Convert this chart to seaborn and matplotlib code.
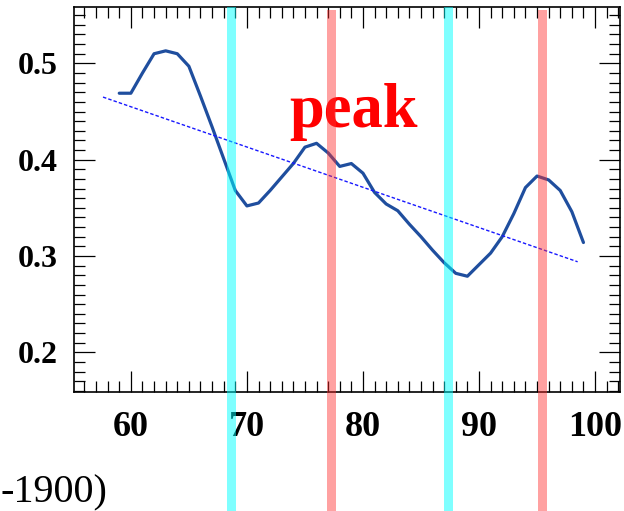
import numpy as np
import pandas as pd
import matplotlib
matplotlib.use("Agg")
import matplotlib.pyplot as plt
import seaborn as sns

# values
years = list(range(59, 100))
values = [0.469, 0.469, 0.490, 0.510, 0.513, 0.510, 0.497, 0.466, 0.434, 0.401,
          0.368, 0.352, 0.355, 0.368, 0.382, 0.396, 0.413, 0.417, 0.407, 0.393,
          0.396, 0.386, 0.366, 0.354, 0.347, 0.333, 0.320, 0.306, 0.293, 0.282,
          0.279, 0.291, 0.303, 0.320, 0.344, 0.371, 0.383, 0.379, 0.368, 0.346,
          0.314]
trend_x = [57.6, 98.5]
trend_y = [0.465, 0.294]
min_marks = [68.66, 87.4]
peak_marks = [77.27, 95.5]
x_ticks = [60, 70, 80, 90, 100]
y_ticks = [0.2, 0.3, 0.4, 0.5]

sns.set_style("ticks")
plt.rcParams["font.family"] = ["Liberation Serif", "DejaVu Serif"]
plt.rcParams["text.color"] = "black"
plt.rcParams["xtick.labelcolor"] = "black"
plt.rcParams["ytick.labelcolor"] = "black"

df = pd.DataFrame({"year": years, "value": values})
tr = pd.DataFrame({"year": trend_x, "value": trend_y})

fig = plt.figure(figsize=(6.24, 5.11), dpi=100)
ax = fig.add_axes([74 / 624, 1 - 392 / 511, 546 / 624, 384.5 / 511])

sns.lineplot(data=df, x="year", y="value", ax=ax, color="#1f4e9e", linewidth=2.3)
sns.lineplot(data=tr, x="year", y="value", ax=ax, color="#1818ff", linewidth=1.0,
             linestyle=(0, (2.5, 1.5)))

half = 0.38
for m in min_marks:
    ax.axvspan(m - half, m + half, ymin=-0.35, ymax=1.0, clip_on=False,
               facecolor="#00ffff", alpha=0.5, edgecolor="none", zorder=5)
for m in peak_marks:
    ax.axvspan(m - half, m + half, ymin=-0.35, ymax=0.993, clip_on=False,
               facecolor="#ff3030", alpha=0.45, edgecolor="none", zorder=5)

ax.text(79.2, 0.434, "peak", color="red", fontsize=45, fontweight="bold",
        ha="center", va="baseline")

ax.set_xlim(55.1, 102.15)
ax.set_ylim(0.1588, 0.558)
ax.set_xticks(x_ticks)
ax.set_yticks(y_ticks)
ax.set_xticks(np.arange(56, 103, 1), minor=True)
ax.set_yticks(np.arange(0.16, 0.56, 0.01), minor=True)
ax.set_xticklabels([str(t) for t in x_ticks], fontsize=26, fontweight="bold")
ax.set_yticklabels([f"{t:.1f}" for t in y_ticks], fontsize=23, fontweight="bold")
ax.set_xlabel("")
ax.set_ylabel("")
ax.tick_params(which="both", direction="in", top=True, right=True, width=0.9,
               color="black", labelcolor="black")
ax.tick_params(which="major", length=15)
ax.tick_params(which="minor", length=8)
ax.tick_params(axis="x", which="major", pad=14)
ax.tick_params(axis="y", which="major", pad=12)
for s in ax.spines.values():
    s.set_linewidth(1.2)
    s.set_color("black")

fig.text(1 / 624, 1 - 502 / 511, "-1900)", fontsize=29, color="black",
         ha="left", va="baseline")

fig.savefig("out.png", dpi=100)
